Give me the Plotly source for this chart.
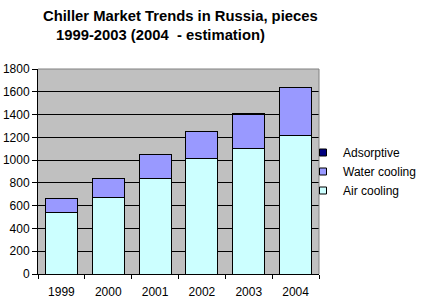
import plotly.graph_objects as go

years = ["1999", "2000", "2001", "2002", "2003", "2004"]
air_cooling = [542, 673, 840, 1018, 1105, 1220]
water_cooling = [123, 167, 211, 237, 297, 420]
adsorptive = [None, None, None, None, 10, None]

series = [
    ("Air cooling", air_cooling, "#CCFFFF"),
    ("Water cooling", water_cooling, "#9999FF"),
    ("Adsorptive", adsorptive, "#000080"),
]

L, R, T, B = 38, 108, 69, 31
W, H = 427, 305
pw = W - L - R
ph = H - T - B

fig = go.Figure()
for name, vals, col in series:
    fig.add_bar(x=years, y=vals, name=name, showlegend=False, legendgroup=name,
                marker=dict(color=col, line=dict(color="black", width=1)))
for name, vals, col in series:
    fig.add_scatter(x=[None], y=[None], name=name, mode="markers", legendgroup=name,
                    marker=dict(symbol="square", size=7, color=col,
                                line=dict(color="black", width=1)))

font = "Arial, Liberation Sans, sans-serif"
fig.update_layout(
    width=W, height=H,
    margin=dict(l=L, r=R, t=T, b=B, autoexpand=False),
    barmode="stack", bargap=0.32,
    paper_bgcolor="white", plot_bgcolor="#C0C0C0",
    font=dict(family=font, size=12, color="black"),
    showlegend=True,
    legend=dict(x=(303 - L) / pw, y=(274 - 138) / ph, xanchor="left", yanchor="top",
                traceorder="reversed", font=dict(size=12),
                bgcolor="rgba(0,0,0,0)", itemwidth=30, tracegroupgap=0),
    xaxis=dict(showline=True, linecolor="black", linewidth=1,
               ticks="outside", ticklen=4, tickcolor="black",
               tickson="boundaries", showgrid=False, ticklabelstandoff=7),
    yaxis=dict(range=[0, 1800], dtick=200, showline=True, linecolor="black",
               linewidth=1, ticks="outside", ticklen=5, tickcolor="black",
               showgrid=True, gridcolor="black", gridwidth=1, zeroline=False),
    annotations=[
        dict(text="<b>Chiller Market Trends in Russia, pieces</b>",
             xref="paper", yref="paper", x=(41 - L) / pw, y=1 + (T - 6) / ph,
             xanchor="left", yanchor="top", showarrow=False,
             font=dict(size=14.8, family=font)),
        dict(text="<b>1999-2003 (2004&nbsp; - estimation)</b>",
             xref="paper", yref="paper", x=(54 - L) / pw, y=1 + (T - 25) / ph,
             xanchor="left", yanchor="top", showarrow=False,
             font=dict(size=14.8, family=font)),
    ],
    shapes=[
        dict(type="line", xref="paper", yref="paper", x0=0, x1=1, y0=1, y1=1,
             line=dict(color="#808080", width=1)),
        dict(type="line", xref="paper", yref="paper", x0=1, x1=1, y0=0, y1=1,
             line=dict(color="#808080", width=1)),
    ],
)

fig.write_html("out.html")
